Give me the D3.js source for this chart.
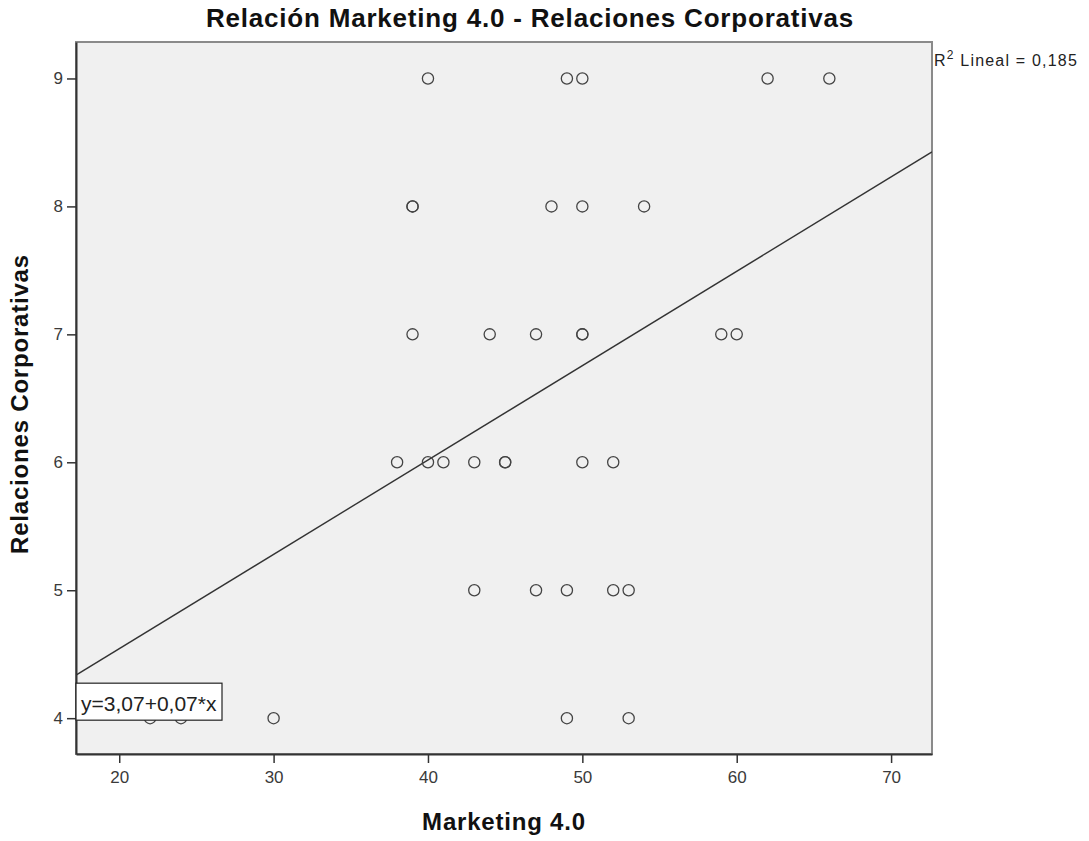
<!DOCTYPE html>
<html>
<head>
<meta charset="utf-8">
<script src="https://cdn.jsdelivr.net/npm/d3@7"></script>
<style>
  body { margin: 0; background: #fff; }
  svg { display: block; font-family: Arial, "Liberation Sans", sans-serif; }
</style>
</head>
<body>
<svg id="chart" width="1089" height="841"></svg>
<script>
// Scatter of Marketing 4.0 score vs. Relaciones Corporativas score, one row per response level
const levels = [9, 8, 7, 6, 5, 4];
const marketingByLevel = [
  [40, 49, 50, 62, 66],
  [39, 39, 48, 50, 54],
  [39, 44, 47, 50, 50, 59, 60],
  [38, 40, 41, 43, 45, 45, 50, 52],
  [43, 47, 49, 52, 53],
  [22, 24, 30, 49, 53]
];
const xTicks = [20, 30, 40, 50, 60, 70];
const yTicks = [4, 5, 6, 7, 8, 9];
const xDomain = [17.2, 72.65];
const yDomain = [3.72, 9.285];

const points = [];
levels.forEach((lv, i) => marketingByLevel[i].forEach(x => points.push({ x, y: lv })));

// Ordinary least squares fit
const mx = d3.mean(points, d => d.x), my = d3.mean(points, d => d.y);
const sxy = d3.sum(points, d => (d.x - mx) * (d.y - my));
const sxx = d3.sum(points, d => (d.x - mx) ** 2);
const syy = d3.sum(points, d => (d.y - my) ** 2);
const slope = sxy / sxx;
const intercept = my - slope * mx;
const r2 = (sxy * sxy) / (sxx * syy);
const fmt = (v, k) => v.toFixed(k).replace(".", ",");

const svg = d3.select("#chart");
const m = { left: 76, top: 42, right: 157, bottom: 87 };
const W = 1089 - m.left - m.right, H = 841 - m.top - m.bottom;

const x = d3.scaleLinear().domain(xDomain).range([0, W]);
const y = d3.scaleLinear().domain(yDomain).range([H, 0]);

const g = svg.append("g").attr("transform", `translate(${m.left},${m.top})`);

// plot background and frame
g.append("rect").attr("width", W).attr("height", H)
  .attr("fill", "#f0f0f0").attr("stroke", "#8a8a8a").attr("stroke-width", 2);

g.append("clipPath").attr("id", "clip")
  .append("rect").attr("width", W).attr("height", H);

// fit line
g.append("line")
  .attr("clip-path", "url(#clip)")
  .attr("x1", x(xDomain[0])).attr("y1", y(intercept + slope * xDomain[0]))
  .attr("x2", x(xDomain[1])).attr("y2", y(intercept + slope * xDomain[1]))
  .attr("stroke", "#333").attr("stroke-width", 1.4);

// points
g.append("g").selectAll("circle").data(points).join("circle")
  .attr("cx", d => x(d.x)).attr("cy", d => y(d.y)).attr("r", 5.6)
  .attr("fill", "none").attr("stroke", "#444").attr("stroke-width", 1.3);

// axes
const xAxis = g.append("g").attr("transform", `translate(0,${H})`)
  .call(d3.axisBottom(x).tickValues(xTicks).tickSizeInner(9).tickSizeOuter(0)
    .tickPadding(8).tickFormat(d3.format("d")));
const yAxis = g.append("g")
  .call(d3.axisLeft(y).tickValues(yTicks).tickSizeInner(9).tickSizeOuter(0)
    .tickPadding(4).tickFormat(d3.format("d")));
[xAxis, yAxis].forEach(a => {
  a.select(".domain").attr("stroke", "#333").attr("stroke-width", 2);
  a.selectAll(".tick line").attr("stroke", "#333").attr("stroke-width", 1.5);
  a.selectAll(".tick text").attr("fill", "#3a3a3a").style("font-size", "17px")
    .style("font-family", "Arial, 'Liberation Sans', sans-serif");
});

// equation box
const eqY = y(4) - 35;
const eq = g.append("g").attr("transform", `translate(0,${eqY})`);
eq.append("rect").attr("width", 146).attr("height", 37)
  .attr("fill", "#fff").attr("stroke", "#222").attr("stroke-width", 1.2);
eq.append("text").attr("x", 5).attr("y", 28)
  .style("font-size", "21px").attr("fill", "#222")
  .text(`y=${fmt(intercept, 2)}+${fmt(slope, 2)}*x`);

// R² note
const r2t = svg.append("text").attr("x", m.left + W + 2).attr("y", 66)
  .style("font-size", "16px").style("letter-spacing", "1.2px").attr("fill", "#222");
r2t.append("tspan").text("R");
r2t.append("tspan").attr("dy", -7).style("font-size", "12px").text("2");
r2t.append("tspan").attr("dy", 7).text(` Lineal = ${fmt(r2, 3)}`);

// titles
svg.append("text").attr("x", 530).attr("y", 27).attr("text-anchor", "middle")
  .style("font-size", "26px").style("font-weight", "bold").style("letter-spacing", "0.8px")
  .attr("fill", "#111").text("Relación Marketing 4.0 - Relaciones Corporativas");
svg.append("text").attr("x", m.left + W / 2).attr("y", 830).attr("text-anchor", "middle")
  .style("font-size", "24px").style("font-weight", "bold").style("letter-spacing", "0.8px")
  .attr("fill", "#111").text("Marketing 4.0");
svg.append("text").attr("transform", "translate(28,404) rotate(-90)").attr("text-anchor", "middle")
  .style("font-size", "24px").style("font-weight", "bold").style("letter-spacing", "0.8px")
  .attr("fill", "#111").text("Relaciones Corporativas");
</script>
</body>
</html>
